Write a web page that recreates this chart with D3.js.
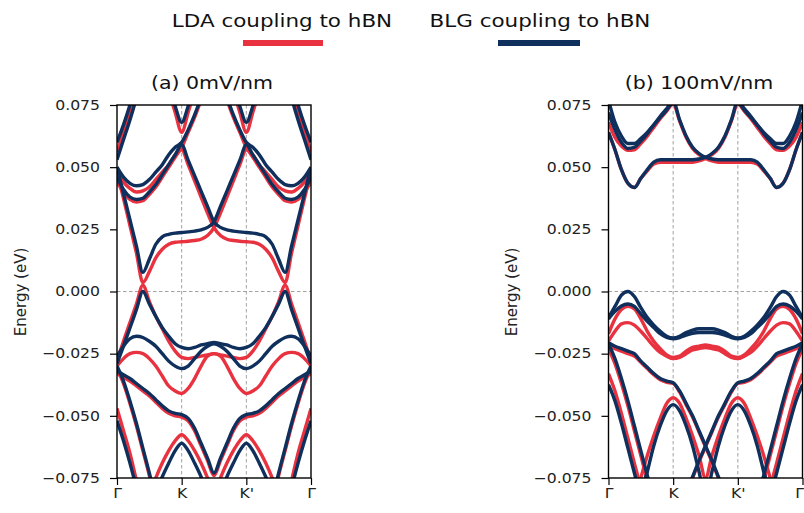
<!DOCTYPE html>
<html><head><meta charset="utf-8">
<script src="https://cdn.jsdelivr.net/npm/d3@7"></script>
<style>body{margin:0;background:#fff;} svg{display:block;font-family:"DejaVu Sans",sans-serif;}</style>
</head><body>
<svg id="chart" width="804" height="513"></svg>
<script>
// ---- data ----
const kPoints = [0,0.1,0.2,0.3,0.4,0.5,0.6,0.7,0.8,0.9,1.0,1.1,1.2,1.3,1.4,1.5,1.6,1.7,1.8,1.9,2.0,2.1,2.2,2.3,2.4,2.5,2.6,2.7,2.8,2.9,3.0];
const kTicks = [0,1,2,3];
const kLabels = ["Γ","K","K'","Γ"];
const energyTicks = [-0.075,-0.05,-0.025,0,0.025,0.05,0.075];
const panelTitles = ["(a) 0mV/nm","(b) 100mV/nm"];
const seriesNames = ["LDA coupling to hBN","BLG coupling to hBN"];

// Panel (a) 0mV/nm — LDA coupling (red)
const aRedX1 = [0.048,0.0375,0.0265,0.0155,0.0036,0.008,0.0135,0.017,0.019,0.0198,0.020,0.0202,0.0205,0.021,0.0225,0.0257,0.0315,0.038,0.0445,0.051,0.057,0.054,0.050,0.046,0.042,0.039,0.0365,0.036,0.037,0.040,0.044];
const aRedX2 = [0.044,0.040,0.037,0.036,0.0365,0.039,0.042,0.046,0.050,0.054,0.057,0.051,0.0445,0.038,0.0315,0.0257,0.0225,0.021,0.0205,0.0202,0.020,0.0198,0.019,0.017,0.0135,0.008,0.0036,0.0155,0.0265,0.0375,0.048];
const aRedC3 = [0.048,0.044,0.0415,0.040,0.0405,0.042,0.045,0.048,0.051,0.055,0.058,0.064,0.070,0.077,0.084,0.089,0.084,0.077,0.070,0.064,0.058,0.055,0.051,0.048,0.045,0.042,0.0405,0.040,0.0415,0.044,0.048];
const aRedVK = [0.12,0.12,0.12,0.12,0.12,0.12,0.105,0.093,0.081,0.072,0.064,0.072,0.081,0.093,0.105,0.12,0.105,0.093,0.081,0.072,0.064,0.072,0.081,0.093,0.105,0.12,0.12,0.12,0.12,0.12,0.12];
const aRedGu = [0.056,0.064,0.072,0.081,0.093,0.108,0.12,0.12,0.12,0.12,0.12,0.12,0.12,0.12,0.12,0.12,0.12,0.12,0.12,0.12,0.12,0.12,0.12,0.12,0.12,0.108,0.093,0.081,0.072,0.064,0.056];
const aRedV1 = [-0.028,-0.020,-0.0125,-0.005,0.0025,-0.004,-0.010,-0.015,-0.020,-0.024,-0.0265,-0.027,-0.0265,-0.026,-0.0255,-0.025,-0.0255,-0.026,-0.0265,-0.027,-0.0265,-0.024,-0.020,-0.015,-0.010,-0.004,0.0025,-0.005,-0.0125,-0.020,-0.028];
const aRedV2 = [-0.030,-0.027,-0.025,-0.0245,-0.025,-0.027,-0.030,-0.034,-0.038,-0.040,-0.041,-0.039,-0.035,-0.030,-0.026,-0.025,-0.026,-0.030,-0.035,-0.039,-0.041,-0.040,-0.038,-0.034,-0.030,-0.027,-0.025,-0.0245,-0.025,-0.027,-0.030];
const aRedV3 = [-0.033,-0.0345,-0.036,-0.038,-0.040,-0.042,-0.0445,-0.047,-0.049,-0.050,-0.0505,-0.052,-0.056,-0.062,-0.068,-0.074,-0.068,-0.062,-0.056,-0.052,-0.0505,-0.050,-0.049,-0.047,-0.0445,-0.042,-0.040,-0.038,-0.036,-0.0345,-0.033];
const aRedLam = [-0.12,-0.12,-0.12,-0.12,-0.10,-0.082,-0.075,-0.069,-0.064,-0.060,-0.0576,-0.060,-0.064,-0.069,-0.075,-0.082,-0.075,-0.069,-0.064,-0.060,-0.0576,-0.060,-0.064,-0.069,-0.075,-0.082,-0.10,-0.12,-0.12,-0.12,-0.12];
const aRedG1 = [-0.031,-0.037,-0.045,-0.054,-0.064,-0.074,-0.085,-0.096,-0.11,-0.12,-0.12,-0.12,-0.12,-0.12,-0.12,-0.12,-0.12,-0.12,-0.12,-0.12,-0.12,-0.12,-0.11,-0.096,-0.085,-0.074,-0.064,-0.054,-0.045,-0.037,-0.031];
const aRedG2 = [-0.047,-0.056,-0.065,-0.076,-0.088,-0.10,-0.12,-0.12,-0.12,-0.12,-0.12,-0.12,-0.12,-0.12,-0.12,-0.12,-0.12,-0.12,-0.12,-0.12,-0.12,-0.12,-0.12,-0.12,-0.12,-0.10,-0.088,-0.076,-0.065,-0.056,-0.047];

// Panel (a) 0mV/nm — BLG coupling (blue)
const aBlueX1 = [0.050,0.0394,0.0289,0.0183,0.0077,0.013,0.019,0.022,0.023,0.0235,0.0237,0.024,0.0243,0.0248,0.0258,0.028,0.0342,0.0404,0.0466,0.0528,0.059,0.055,0.051,0.047,0.043,0.040,0.0375,0.037,0.038,0.041,0.046];
const aBlueX2 = [0.046,0.041,0.038,0.037,0.0375,0.040,0.043,0.047,0.051,0.055,0.059,0.0528,0.0466,0.0404,0.0342,0.028,0.0258,0.0248,0.0243,0.024,0.0237,0.0235,0.023,0.022,0.019,0.013,0.0077,0.0183,0.0289,0.0394,0.050];
const aBlueC3 = [0.050,0.046,0.0435,0.0425,0.043,0.045,0.048,0.051,0.055,0.058,0.060,0.065,0.071,0.078,0.085,0.090,0.085,0.078,0.071,0.065,0.060,0.058,0.055,0.051,0.048,0.045,0.043,0.0425,0.0435,0.046,0.050];
const aBlueVK = [0.12,0.12,0.12,0.12,0.12,0.12,0.11,0.095,0.083,0.0745,0.068,0.0745,0.083,0.095,0.11,0.12,0.11,0.095,0.083,0.0745,0.068,0.0745,0.083,0.095,0.11,0.12,0.12,0.12,0.12,0.12,0.12];
const aBlueGu1 = [0.060,0.067,0.075,0.084,0.095,0.11,0.12,0.12,0.12,0.12,0.12,0.12,0.12,0.12,0.12,0.12,0.12,0.12,0.12,0.12,0.12,0.12,0.12,0.12,0.12,0.11,0.095,0.084,0.075,0.067,0.060];
const aBlueGu2 = [0.053,0.061,0.069,0.078,0.09,0.105,0.12,0.12,0.12,0.12,0.12,0.12,0.12,0.12,0.12,0.12,0.12,0.12,0.12,0.12,0.12,0.12,0.12,0.12,0.12,0.105,0.09,0.078,0.069,0.061,0.053];
const aBlueV1 = [-0.029,-0.022,-0.0147,-0.0073,0.000,-0.005,-0.010,-0.0145,-0.018,-0.021,-0.0225,-0.023,-0.0225,-0.0215,-0.021,-0.0205,-0.021,-0.0215,-0.0225,-0.023,-0.0225,-0.021,-0.018,-0.0145,-0.010,-0.005,0.000,-0.0073,-0.0147,-0.022,-0.029];
const aBlueV2 = [-0.026,-0.022,-0.019,-0.018,-0.0185,-0.020,-0.022,-0.025,-0.028,-0.030,-0.031,-0.030,-0.027,-0.024,-0.022,-0.021,-0.022,-0.024,-0.027,-0.030,-0.031,-0.030,-0.028,-0.025,-0.022,-0.020,-0.0185,-0.018,-0.019,-0.022,-0.026];
const aBlueV3 = [-0.032,-0.0335,-0.035,-0.037,-0.039,-0.041,-0.0435,-0.046,-0.048,-0.049,-0.0495,-0.051,-0.055,-0.061,-0.067,-0.073,-0.067,-0.061,-0.055,-0.051,-0.0495,-0.049,-0.048,-0.046,-0.0435,-0.041,-0.039,-0.037,-0.035,-0.0335,-0.032];
const aBlueLam = [-0.12,-0.12,-0.12,-0.12,-0.11,-0.088,-0.081,-0.0745,-0.069,-0.064,-0.061,-0.064,-0.069,-0.0745,-0.081,-0.088,-0.081,-0.0745,-0.069,-0.064,-0.061,-0.064,-0.069,-0.0745,-0.081,-0.088,-0.11,-0.12,-0.12,-0.12,-0.12];
const aBlueG1 = [-0.030,-0.036,-0.044,-0.053,-0.063,-0.073,-0.084,-0.095,-0.11,-0.12,-0.12,-0.12,-0.12,-0.12,-0.12,-0.12,-0.12,-0.12,-0.12,-0.12,-0.12,-0.12,-0.11,-0.095,-0.084,-0.073,-0.063,-0.053,-0.044,-0.036,-0.030];
const aBlueG2 = [-0.052,-0.060,-0.069,-0.079,-0.09,-0.10,-0.12,-0.12,-0.12,-0.12,-0.12,-0.12,-0.12,-0.12,-0.12,-0.12,-0.12,-0.12,-0.12,-0.12,-0.12,-0.12,-0.12,-0.12,-0.12,-0.10,-0.09,-0.079,-0.069,-0.060,-0.052];

// Panel (b) 100mV/nm — LDA coupling (red)
const bRedX1 = [0.064,0.057,0.049,0.0435,0.0418,0.0455,0.0485,0.0513,0.052,0.052,0.052,0.052,0.052,0.052,0.0525,0.0535,0.055,0.0575,0.062,0.0685,0.0755,0.0725,0.0695,0.066,0.0625,0.0595,0.057,0.0568,0.0585,0.062,0.068];
const bRedX2 = [0.068,0.062,0.0585,0.0568,0.057,0.0595,0.0625,0.066,0.0695,0.0725,0.0755,0.0685,0.062,0.0575,0.055,0.0535,0.0525,0.052,0.052,0.052,0.052,0.052,0.052,0.0513,0.0485,0.0455,0.0418,0.0435,0.049,0.057,0.064];
const bRedV1 = [-0.017,-0.011,-0.0072,-0.006,-0.007,-0.011,-0.016,-0.020,-0.023,-0.0255,-0.0265,-0.026,-0.024,-0.0225,-0.022,-0.0215,-0.022,-0.0225,-0.024,-0.026,-0.0265,-0.0255,-0.023,-0.020,-0.016,-0.011,-0.007,-0.006,-0.0072,-0.011,-0.017];
const bRedV1b = [-0.020,-0.016,-0.013,-0.0125,-0.0135,-0.016,-0.019,-0.022,-0.0245,-0.026,-0.027,-0.0265,-0.025,-0.0235,-0.023,-0.0225,-0.023,-0.0235,-0.025,-0.0265,-0.027,-0.026,-0.0245,-0.022,-0.019,-0.016,-0.0135,-0.0125,-0.013,-0.016,-0.020];
const bRedV2a = [-0.0215,-0.023,-0.024,-0.025,-0.026,-0.0285,-0.031,-0.0335,-0.0355,-0.0365,-0.037,-0.0405,-0.0455,-0.0505,-0.0565,-0.0625,-0.0685,-0.075,-0.0815,-0.09,-0.10,-0.11,-0.12,-0.12,-0.12,-0.12,-0.12,-0.12,-0.12,-0.12,-0.12];
const bRedV2b = [-0.12,-0.12,-0.12,-0.12,-0.12,-0.12,-0.12,-0.12,-0.12,-0.11,-0.10,-0.09,-0.0815,-0.075,-0.0685,-0.0625,-0.0565,-0.0505,-0.0455,-0.0405,-0.037,-0.0365,-0.0355,-0.0335,-0.031,-0.0285,-0.026,-0.025,-0.024,-0.023,-0.0215];
const bRedLam = [-0.12,-0.12,-0.12,-0.12,-0.085,-0.075,-0.066,-0.058,-0.051,-0.045,-0.0427,-0.045,-0.051,-0.058,-0.066,-0.075,-0.066,-0.058,-0.051,-0.045,-0.0427,-0.045,-0.051,-0.058,-0.066,-0.075,-0.085,-0.12,-0.12,-0.12,-0.12];
const bRedG1 = [-0.023,-0.029,-0.037,-0.046,-0.056,-0.066,-0.076,-0.086,-0.10,-0.12,-0.12,-0.12,-0.12,-0.12,-0.12,-0.12,-0.12,-0.12,-0.12,-0.12,-0.12,-0.12,-0.10,-0.086,-0.076,-0.066,-0.056,-0.046,-0.037,-0.029,-0.023];
const bRedG2 = [-0.033,-0.040,-0.049,-0.059,-0.069,-0.079,-0.09,-0.10,-0.12,-0.12,-0.12,-0.12,-0.12,-0.12,-0.12,-0.12,-0.12,-0.12,-0.12,-0.12,-0.12,-0.12,-0.12,-0.10,-0.09,-0.079,-0.069,-0.059,-0.049,-0.040,-0.033];

// Panel (b) 100mV/nm — BLG coupling (blue)
const bBlueX1 = [0.064,0.057,0.049,0.0435,0.0418,0.0455,0.049,0.052,0.053,0.053,0.053,0.053,0.053,0.053,0.0533,0.054,0.0555,0.058,0.0625,0.069,0.0765,0.0735,0.0705,0.067,0.0635,0.0605,0.058,0.0575,0.060,0.065,0.072];
const bBlueX2 = [0.072,0.065,0.060,0.0575,0.058,0.0605,0.0635,0.067,0.0705,0.0735,0.0765,0.069,0.0625,0.058,0.0555,0.054,0.0533,0.053,0.053,0.053,0.053,0.053,0.053,0.052,0.049,0.0455,0.0418,0.0435,0.049,0.057,0.064];
const bBlueU1 = [0.077,0.068,0.0625,0.0595,0.0595,0.0615,0.064,0.067,0.070,0.073,0.077,0.083,0.088,0.09,0.09,0.09,0.09,0.09,0.088,0.083,0.077,0.073,0.070,0.067,0.064,0.0615,0.0595,0.0595,0.0625,0.068,0.077];
const bBlueV1 = [-0.0105,-0.006,-0.0015,0.000,-0.002,-0.0065,-0.0105,-0.0135,-0.016,-0.018,-0.0187,-0.018,-0.0165,-0.0155,-0.015,-0.015,-0.015,-0.0155,-0.0165,-0.018,-0.0187,-0.018,-0.016,-0.0135,-0.0105,-0.0065,-0.002,0.000,-0.0015,-0.006,-0.0105];
const bBlueV1b = [-0.011,-0.008,-0.0058,-0.005,-0.006,-0.009,-0.012,-0.0145,-0.017,-0.0185,-0.019,-0.0185,-0.0175,-0.0168,-0.0165,-0.0165,-0.0165,-0.0168,-0.0175,-0.0185,-0.019,-0.0185,-0.017,-0.0145,-0.012,-0.009,-0.006,-0.005,-0.0058,-0.008,-0.011];
const bBlueV2a = [-0.0206,-0.022,-0.023,-0.024,-0.025,-0.028,-0.0305,-0.033,-0.035,-0.036,-0.0367,-0.040,-0.045,-0.050,-0.056,-0.062,-0.068,-0.0745,-0.081,-0.09,-0.10,-0.11,-0.12,-0.12,-0.12,-0.12,-0.12,-0.12,-0.12,-0.12,-0.12];
const bBlueV2b = [-0.12,-0.12,-0.12,-0.12,-0.12,-0.12,-0.12,-0.12,-0.12,-0.11,-0.10,-0.09,-0.081,-0.0745,-0.068,-0.062,-0.056,-0.050,-0.045,-0.040,-0.0367,-0.036,-0.035,-0.033,-0.0305,-0.028,-0.025,-0.024,-0.023,-0.022,-0.0206];
const bBlueLam = [-0.12,-0.12,-0.12,-0.12,-0.12,-0.083,-0.0725,-0.062,-0.054,-0.048,-0.0455,-0.048,-0.054,-0.062,-0.0725,-0.083,-0.0725,-0.062,-0.054,-0.048,-0.0455,-0.048,-0.054,-0.062,-0.0725,-0.083,-0.12,-0.12,-0.12,-0.12,-0.12];
const bBlueG1 = [-0.021,-0.027,-0.035,-0.044,-0.054,-0.064,-0.074,-0.084,-0.10,-0.12,-0.12,-0.12,-0.12,-0.12,-0.12,-0.12,-0.12,-0.12,-0.12,-0.12,-0.12,-0.12,-0.10,-0.084,-0.074,-0.064,-0.054,-0.044,-0.035,-0.027,-0.021];
const bBlueG2 = [-0.0375,-0.044,-0.053,-0.063,-0.073,-0.083,-0.095,-0.11,-0.12,-0.12,-0.12,-0.12,-0.12,-0.12,-0.12,-0.12,-0.12,-0.12,-0.12,-0.12,-0.12,-0.12,-0.12,-0.11,-0.095,-0.083,-0.073,-0.063,-0.053,-0.044,-0.0375];

const panelA_LDA = [aRedX1,aRedX2,aRedC3,aRedVK,aRedGu,aRedV1,aRedV2,aRedV3,aRedLam,aRedG1,aRedG2];
const panelA_BLG = [aBlueX1,aBlueX2,aBlueC3,aBlueVK,aBlueGu1,aBlueGu2,aBlueV1,aBlueV2,aBlueV3,aBlueLam,aBlueG1,aBlueG2];
const panelB_LDA = [bRedX1,bRedX2,bRedV1,bRedV1b,bRedV2a,bRedV2b,bRedLam,bRedG1,bRedG2];
const panelB_BLG = [bBlueX1,bBlueX2,bBlueU1,bBlueV1,bBlueV1b,bBlueV2a,bBlueV2b,bBlueLam,bBlueG1,bBlueG2];

// ---- drawing ----
const RED = "#e8323f", BLUE = "#0f2f5c";
const svg = d3.select("#chart");
const SX = 1.16; // horizontal stretch of the original figure's text

const panels = [
  {x0:117, x1:311, title:panelTitles[0], titleX:212, ylabX:21, lda:panelA_LDA, blg:panelA_BLG},
  {x0:608.5, x1:802.5, title:panelTitles[1], titleX:699, ylabX:512, lda:panelB_LDA, blg:panelB_BLG}
];
const yTop = 105, yBot = 478;

panels.forEach((p,i) => {
  const x = d3.scaleLinear().domain([0,3]).range([p.x0,p.x1]);
  const y = d3.scaleLinear().domain([-0.075,0.075]).range([yBot,yTop]);
  const g = svg.append("g");
  const clipId = "clip"+i;
  svg.append("clipPath").attr("id",clipId).append("rect")
    .attr("x",p.x0).attr("y",yTop).attr("width",p.x1-p.x0).attr("height",yBot-yTop);

  // grid lines
  g.selectAll("line.vg").data([1,2]).join("line")
    .attr("x1",d=>x(d)).attr("x2",d=>x(d)).attr("y1",yTop).attr("y2",yBot)
    .attr("stroke","#8a8a8a").attr("stroke-width",0.8).attr("stroke-dasharray","3.5,2.5");
  g.append("line").attr("x1",p.x0).attr("x2",p.x1).attr("y1",y(0)).attr("y2",y(0))
    .attr("stroke","#8a8a8a").attr("stroke-width",0.8).attr("stroke-dasharray","3.5,2.5");

  const line = d3.line().x((d,j)=>x(kPoints[j])).y(d=>y(d)).curve(d3.curveMonotoneX);
  const bands = g.append("g").attr("clip-path",`url(#${clipId})`);
  bands.selectAll("path.lda").data(p.lda).join("path").attr("class","lda")
    .attr("d",line).attr("fill","none").attr("stroke",RED).attr("stroke-width",3.4).attr("stroke-linejoin","round");
  bands.selectAll("path.blg").data(p.blg).join("path").attr("class","blg")
    .attr("d",line).attr("fill","none").attr("stroke",BLUE).attr("stroke-width",3.4).attr("stroke-linejoin","round");

  // frame
  g.append("rect").attr("x",p.x0).attr("y",yTop).attr("width",p.x1-p.x0).attr("height",yBot-yTop)
    .attr("fill","none").attr("stroke","#000").attr("stroke-width",1.4);

  // y axis
  const ya = g.append("g").attr("transform",`translate(${p.x0},0)`)
    .call(d3.axisLeft(y).tickValues(energyTicks).tickSize(7).tickFormat(d3.format(".3f")));
  ya.select(".domain").remove();
  ya.selectAll(".tick line").attr("stroke","#000").attr("stroke-width",1.2);
  ya.selectAll(".tick text").attr("font-size",13.5).attr("font-family","DejaVu Sans")
    .attr("fill","#222").attr("x",-17/SX).attr("transform",`scale(${SX},1)`);

  // x axis
  const xa = g.append("g").attr("transform",`translate(0,${yBot})`)
    .call(d3.axisBottom(x).tickValues(kTicks).tickSize(7).tickFormat((d,j)=>kLabels[j]));
  xa.select(".domain").remove();
  xa.selectAll(".tick line").attr("stroke","#000").attr("stroke-width",1.2);
  xa.selectAll(".tick text").attr("font-size",13.5).attr("font-family","DejaVu Sans")
    .attr("fill","#222").attr("y",10).attr("transform",`scale(${SX},1)`);
  if (i === 1) {
    // last Γ sits at the right edge of the figure: keep it inside
    xa.selectAll(".tick text").filter((d,j)=>j===3).attr("text-anchor","end").attr("x",1/SX);
  }

  // y label
  svg.append("text").attr("transform",`translate(${p.ylabX},292) rotate(-90)`)
    .attr("text-anchor","middle").attr("dy","0.35em").attr("font-size",15).attr("fill","#222")
    .text("Energy (eV)");

  // title
  svg.append("text").attr("transform",`translate(${p.titleX},89) scale(${SX},1)`)
    .attr("text-anchor","middle").attr("font-size",17.7).attr("fill","#111").text(p.title);
});

// legend
const legend = [
  {name:seriesNames[0], color:RED, cx:282, bx0:243, bx1:323},
  {name:seriesNames[1], color:BLUE, cx:540, bx0:498, bx1:580}
];
legend.forEach(l => {
  svg.append("text").attr("transform",`translate(${l.cx},27) scale(${SX},1)`)
    .attr("text-anchor","middle").attr("font-size",18.5).attr("fill","#111").text(l.name);
  svg.append("line").attr("x1",l.bx0).attr("x2",l.bx1).attr("y1",43).attr("y2",43)
    .attr("stroke",l.color).attr("stroke-width",6);
});
</script>
</body></html>
